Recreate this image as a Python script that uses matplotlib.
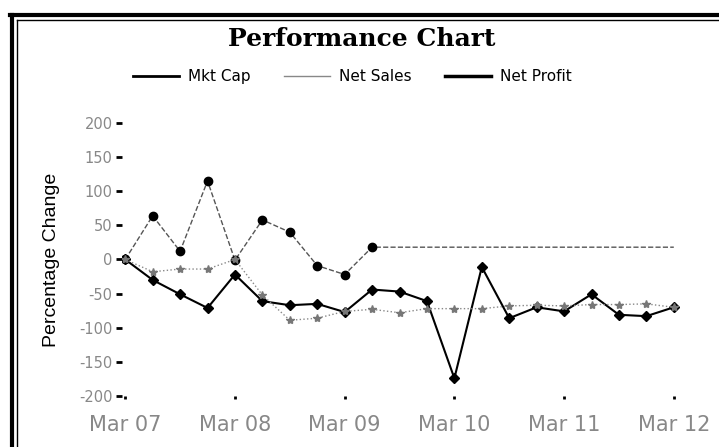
import matplotlib.pyplot as plt
from matplotlib.lines import Line2D

plt.rcParams['axes.unicode_minus'] = False

# quarterly points, Mar 07 .. Mar 12
quarters = list(range(21))
tick_pos = [0, 4, 8, 12, 16, 20]
tick_labels = ['Mar 07', 'Mar 08', 'Mar 09', 'Mar 10', 'Mar 11', 'Mar 12']

mkt_cap = [0, -30, -51, -71, -22, -61, -67, -65, -77, -44, -47, -61,
           -174, -11, -86, -70, -76, -51, -81, -83, -70]
net_sales = [0, -18, -14, -14, 0, -52, -89, -86, -76, -73, -78, -72,
             -72, -72, -68, -67, -68, -66, -66, -65, -70]
net_profit = [0, 64, 12, 115, -1, 58, 40, -9, -22, 18, 18, 18,
              18, 18, 18, 18, 18, 18, 18, 18, 18]

fig = plt.figure(figsize=(7.19, 4.47), dpi=100)
ax = fig.add_axes([0.170, 0.114, 0.790, 0.611])

ax.plot(quarters, net_profit, color='#555555', lw=1, ls='--',
        marker='o', ms=6, mfc='black', mec='black', markevery=list(range(10)))
ax.plot(quarters, mkt_cap, color='black', lw=1.5,
        marker='D', ms=5, mfc='black', mec='black')
ax.plot(quarters, net_sales, color='#888888', lw=1, ls=':',
        marker='*', ms=6, mfc='#777777', mec='#777777')

ax.set_xlim(-0.11, 20.6)
ax.set_ylim(-200, 200)
ax.set_yticks([-200, -150, -100, -50, 0, 50, 100, 150, 200])
ax.set_xticks(tick_pos)
ax.set_xticklabels(tick_labels)
for s in ax.spines.values():
    s.set_visible(False)
ax.tick_params(axis='y', length=4, width=2, color='black', labelsize=10.5,
               labelcolor='#888888', pad=3)
ax.tick_params(axis='x', length=2, width=2, color='black', labelsize=15,
               labelcolor='#888888', pad=12)

ax.set_ylabel('Percentage Change', family='Liberation Sans', fontsize=14,
              labelpad=14)

fig.text(0.503, 0.913, 'Performance Chart', ha='center', va='center',
         family='DejaVu Serif', fontweight='bold', fontsize=18)

handles = [Line2D([], [], color='black', lw=2),
           Line2D([], [], color='#888888', lw=1),
           Line2D([], [], color='black', lw=2.5)]
fig.legend(handles, ['Mkt Cap', 'Net Sales', 'Net Profit'], ncol=3,
           loc='center', bbox_to_anchor=(0.49, 0.828), frameon=False,
           fontsize=11, handlelength=3, columnspacing=2.2, handletextpad=0.6)

# double border of the scanned frame
fig.add_artist(Line2D([0.014, 1.0], [0.966, 0.966], color='black', lw=3))
fig.add_artist(Line2D([0.024, 1.0], [0.955, 0.955], color='black', lw=1))
fig.add_artist(Line2D([0.016, 0.016], [0.0, 0.966], color='black', lw=3))
fig.add_artist(Line2D([0.024, 0.024], [0.0, 0.955], color='black', lw=1))

fig.savefig('out.png', dpi=100)
